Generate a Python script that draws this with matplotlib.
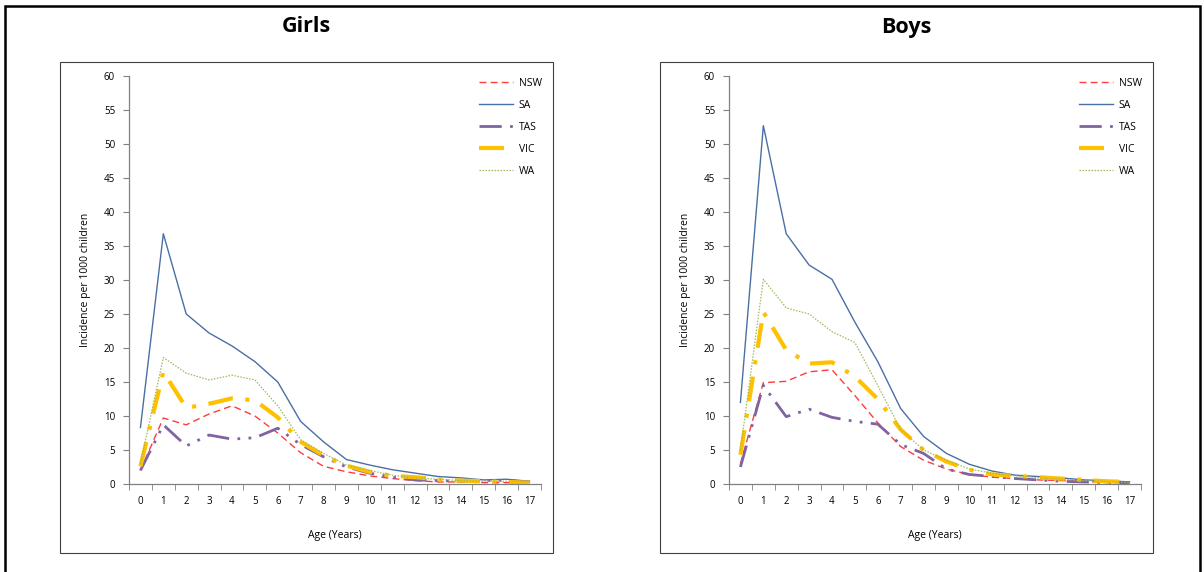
import numpy as np
import matplotlib.pyplot as plt
from matplotlib.patches import Rectangle

plt.rcParams['font.family'] = ['Open Sans', 'DejaVu Sans']

ages = list(range(18))
states = ['NSW', 'SA', 'TAS', 'VIC', 'WA']

# Incidence per 1000 children, by age
girls_nsw = [2.0, 9.7, 8.7, 10.3, 11.5, 10.0, 7.5, 4.6, 2.6, 1.8, 1.2, 0.8, 0.5, 0.3, 0.3, 0.2, 0.2, 0.2]
girls_sa = [8.3, 36.8, 25.0, 22.2, 20.3, 18.0, 15.0, 9.2, 6.2, 3.6, 2.8, 2.1, 1.6, 1.1, 0.9, 0.6, 0.7, 0.4]
girls_tas = [2.0, 8.7, 5.6, 7.2, 6.6, 6.8, 8.2, 5.8, 4.0, 2.5, 1.6, 1.0, 0.6, 0.5, 0.4, 0.5, 0.5, 0.3]
girls_vic = [2.6, 16.5, 11.2, 11.8, 12.6, 12.3, 9.8, 6.2, 4.2, 2.7, 1.8, 1.2, 1.0, 0.7, 0.5, 0.4, 0.3, 0.2]
girls_wa = [3.0, 18.6, 16.3, 15.3, 16.0, 15.3, 11.5, 6.5, 4.5, 2.8, 2.0, 1.3, 0.9, 0.7, 0.5, 0.4, 0.4, 0.3]

boys_nsw = [3.0, 14.9, 15.1, 16.5, 16.8, 13.0, 9.0, 5.5, 3.5, 2.2, 1.4, 1.0, 0.8, 0.6, 0.5, 0.4, 0.2, 0.2]
boys_sa = [12.0, 52.7, 36.8, 32.2, 30.1, 23.8, 18.0, 11.1, 7.0, 4.5, 2.9, 1.9, 1.3, 1.1, 0.9, 0.6, 0.5, 0.3]
boys_tas = [2.5, 14.5, 9.9, 11.0, 9.8, 9.2, 8.8, 5.8, 4.5, 2.2, 1.4, 1.1, 0.8, 0.6, 0.4, 0.3, 0.2, 0.2]
boys_vic = [4.3, 25.3, 19.7, 17.7, 17.9, 15.8, 12.5, 8.0, 5.0, 3.3, 2.1, 1.4, 1.2, 1.0, 0.8, 0.6, 0.4, 0.3]
boys_wa = [5.0, 30.1, 25.9, 25.0, 22.4, 20.8, 14.5, 8.0, 5.0, 3.5, 2.2, 1.6, 1.2, 0.9, 0.7, 0.5, 0.4, 0.2]

styles = {
    'NSW': dict(color='#FF3B3B', lw=1.0, dashes=(5, 3)),
    'SA': dict(color='#4A6FA5', lw=1.0, ls='-'),
    'TAS': dict(color='#8064A2', lw=2.0, dashes=(8, 3, 1, 3, 1, 3)),
    'VIC': dict(color='#FFC000', lw=3.0, dashes=(6, 3, 1, 3)),
    'WA': dict(color='#9BBB59', lw=0.9, dashes=(1.2, 1.2)),
}

W, H = 1204, 572
fig = plt.figure(figsize=(W / 100, H / 100), dpi=100)

# outer frame and panel boxes (pixel coords)
def px_rect(x0, y0, x1, y1, lw, color):
    fig.patches.append(Rectangle((x0 / W, 1 - y1 / H), (x1 - x0) / W, (y1 - y0) / H,
                                 transform=fig.transFigure, fill=False,
                                 lw=lw, edgecolor=color))

px_rect(5, 6, 1200, 580, 1.8, 'black')
px_rect(60, 62, 553, 553, 0.8, '#404040')
px_rect(660, 62, 1153, 553, 0.8, '#404040')

panels = [
    ('Girls', 129, 306, [girls_nsw, girls_sa, girls_tas, girls_vic, girls_wa]),
    ('Boys', 729, 906, [boys_nsw, boys_sa, boys_tas, boys_vic, boys_wa]),
]

for title, left_px, title_x, series in panels:
    ax = fig.add_axes([left_px / W, 1 - 484 / H, 412 / W, 408 / H])
    for name, vals in zip(states, series):
        ax.plot(ages, vals, label=name, **styles[name])

    ax.set_xlim(-0.5, 17.5)
    ax.set_ylim(0, 60)
    ax.set_yticks(np.arange(0, 61, 5))
    ax.set_xticks(ages)
    ax.set_xticks(np.arange(-0.5, 18, 1), minor=True)
    ax.tick_params(axis='x', which='major', length=0, pad=9, labelsize=7)
    ax.tick_params(axis='x', which='minor', length=4, direction='out', color='#808080')
    ax.tick_params(axis='y', length=4, direction='out', color='#808080', labelsize=7, pad=6)
    for s in ['top', 'right']:
        ax.spines[s].set_visible(False)
    for s in ['left', 'bottom']:
        ax.spines[s].set_color('#808080')
        ax.spines[s].set_linewidth(0.9)

    ax.set_xlabel('Age (Years)', fontsize=7.5, labelpad=16)
    ax.set_ylabel('Incidence per 1000 children', fontsize=7.5, labelpad=9)

    ax.legend(loc='upper right', bbox_to_anchor=(1.025, 1.018), frameon=False,
              fontsize=7.5, handlelength=3.2, labelspacing=1.05, handletextpad=0.6)

    fig.text(title_x / W, 1 - 27 / H, title, ha='center', va='center',
             fontsize=15.5, fontweight='bold')

fig.savefig('out.png', dpi=100)
